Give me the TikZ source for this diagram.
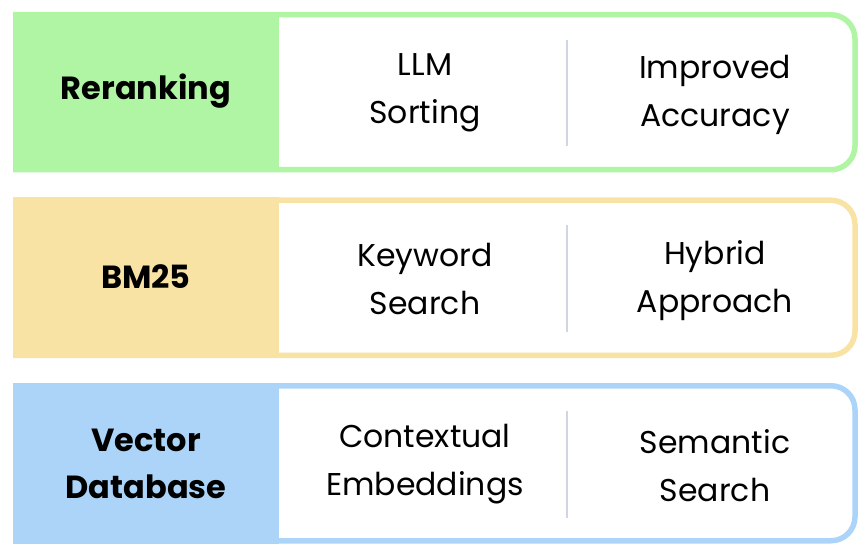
\documentclass[tikz,border=0pt]{standalone}
\usepackage{fontspec}
\setmainfont{Poppins}
\definecolor{cgreen}{RGB}{175,245,164}
\definecolor{cyellow}{RGB}{248,227,164}
\definecolor{cblue}{RGB}{171,212,248}
\definecolor{cdiv}{RGB}{205,214,226}
\tikzset{
  label/.style={font=\fontsize{32}{47}\selectfont\bfseries, align=center, inner sep=0pt},
  itemtxt/.style={font=\fontsize{31.5}{48}\selectfont, align=center, inner sep=0pt},
  divline/.style={draw=cdiv, line width=2pt},
}
\newcommand{\band}[5]{%
  \draw[line width=5.5pt, #3, fill=white]
    (15.75,#1+2.75) [rounded corners=24pt] -- (855,#1+2.75) -- (855,#2-2.75)
    [sharp corners] -- (15.75,#2-2.75) -- cycle;
  \fill[#3] (13,#1) rectangle (279,#2);
  \coordinate (#4t) at (567,#1+28);
  \coordinate (#4b) at (567,#2-26);
  \draw[divline] (#4t) -- (#4b);
}
\begin{document}
\begin{tikzpicture}[x=1pt,y=-1pt]
\useasboundingbox (0,0) rectangle (868,556);
\band{12}{172.5}{cgreen}{r}{}
\band{197.5}{358}{cyellow}{b}{}
\band{383}{543.5}{cblue}{v}{}
\node[label] (rl) at (146,91) {Reranking};
\node[itemtxt] (rm) at (425,93) {LLM\\Sorting};
\node[itemtxt] (rr) at (715,95) {Improved\\Accuracy};
\node[label] (bl) at (146,277) {BM25};
\node[itemtxt] (bm) at (425,279) {Keyword\\Search};
\node[itemtxt] (br) at (715,281) {Hybrid\\Approach};
\node[label] (vl) at (146,464) {Vector\\Database};
\node[itemtxt] (vm) at (425,464) {Contextual\\Embeddings};
\node[itemtxt] (vr) at (715,466) {Semantic\\Search};
\end{tikzpicture}
\end{document}
